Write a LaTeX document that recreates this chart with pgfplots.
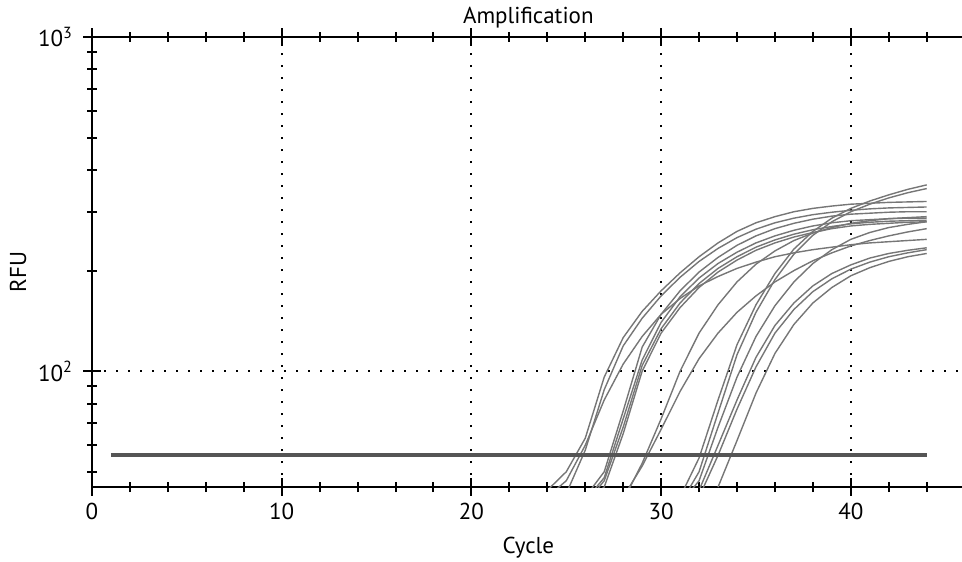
\documentclass[border=0pt]{standalone}
\usepackage{fontspec}
\setmainfont{PT Sans}
\usepackage{pgfplots}
\pgfplotsset{compat=1.18}
\usetikzlibrary{calc}

\definecolor{curve}{HTML}{767676}
\definecolor{thresh}{HTML}{555555}
\pgfplotsset{qpcr/.style={curve, line width=0.7pt, no markers}}

\begin{document}
\fontsize{11.5}{13}\selectfont
\begin{tikzpicture}
\begin{axis}[
    scale only axis,
    width=436.3pt, height=225pt,
    ymode=log,
    xmin=0, xmax=46,
    ymin=45, ymax=1000,
    xtick={0,10,20,30,40},
    minor xtick={2,4,6,8,12,14,16,18,22,24,26,28,32,34,36,38,42,44},
    ytick={100,1000},
    yticklabels={10\textsuperscript{2},10\textsuperscript{3}},
    minor ytick={50,60,70,80,90,200,300,400,500,600,700,800,900},
    ytick pos=left,
    tick align=center,
    major tick length=9pt,
    minor tick length=5pt,
    every tick/.style={black, line width=1pt},
    axis line style={black, line width=1pt},
    grid=major,
    major grid style={black, line width=1pt, dash pattern=on 0.9pt off 5.1pt},
    /pgf/number format/assume math mode=true,
    xticklabel style={anchor=center, yshift=-7.5pt},
    yticklabel style={anchor=east, xshift=-1pt},
    title={Amplification},
    title style={at={(axis description cs:0.5,1.0422)}, anchor=center, yshift=-6pt},
    xlabel={Cycle},
    x label style={at={(axis description cs:0.5,-0.1356)}, anchor=center},
    ylabel={RFU},
    y label style={at={(axis description cs:-0.0848,0.478)}, anchor=center},
]
\coordinate (BL) at (rel axis cs:0,0);
\coordinate (TR) at (axis cs:45.86,1000);

% early group
\addplot[qpcr] coordinates {(24,44) (25,50) (26,63) (27,96) (28,126) (29,151) (30,174) (31,197) (32,220) (33,242) (34,262) (35,278) (36,290) (37,300) (38,307) (39,312) (40,316) (41,318) (42,320) (43,321) (44,322)};
\addplot[qpcr] coordinates {(25,43) (26,58) (27,88) (28,119) (29,144) (30,168) (31,191) (32,213) (33,233) (34,251) (35,266) (36,278) (37,287) (38,294) (39,299) (40,303) (41,306) (42,308) (43,309) (44,310)};
\addplot[qpcr] coordinates {(24,42) (25,47) (26,60) (27,82) (28,105) (29,127) (30,148) (31,165) (32,180) (33,192) (34,203) (35,212) (36,220) (37,226) (38,231) (39,235) (40,239) (41,242) (42,244) (43,246) (44,248)};
\addplot[qpcr] coordinates {(26,42) (27,50) (28,76) (29,118) (30,148) (31,174) (32,198) (33,219) (34,238) (35,254) (36,267) (37,277) (38,285) (39,291) (40,295) (41,297) (42,299) (43,300) (44,300)};
\addplot[qpcr] coordinates {(26,41) (27,48) (28,72) (29,108) (30,140) (31,167) (32,190) (33,210) (34,227) (35,242) (36,254) (37,264) (38,272) (39,278) (40,282) (41,284) (42,286) (43,287) (44,287)};
\addplot[qpcr] coordinates {(26,40) (27,47) (28,68) (29,104) (30,134) (31,160) (32,183) (33,203) (34,220) (35,235) (36,247) (37,257) (38,265) (39,271) (40,276) (41,279) (42,281) (43,282) (44,283)};
\addplot[qpcr] coordinates {(26,40) (27,45) (28,65) (29,100) (30,130) (31,155) (32,178) (33,198) (34,215) (35,230) (36,242) (37,252) (38,260) (39,267) (40,272) (41,275) (42,277) (43,279) (44,280)};
% middle group
\addplot[qpcr] coordinates {(28,41) (29,53) (30,72) (31,100) (32,130) (33,158) (34,185) (35,209) (36,229) (37,246) (38,259) (39,269) (40,277) (41,282) (42,286) (43,288) (44,290)};
\addplot[qpcr] coordinates {(28,42) (29,52) (30,67) (31,87) (32,109) (33,130) (34,150) (35,168) (36,185) (37,200) (38,214) (39,226) (40,237) (41,246) (42,254) (43,261) (44,267)};
% late group
\addplot[qpcr] coordinates {(31,42) (32,55) (33,82) (34,120) (35,158) (36,196) (37,232) (38,262) (39,287) (40,307) (41,323) (42,337) (43,350) (44,361)};
\addplot[qpcr] coordinates {(31,40) (32,50) (33,75) (34,112) (35,150) (36,188) (37,224) (38,255) (39,280) (40,300) (41,316) (42,330) (43,342) (44,352)};
\addplot[qpcr] coordinates {(31,40) (32,47) (33,68) (34,96) (35,127) (36,157) (37,185) (38,210) (39,231) (40,248) (41,260) (42,269) (43,275) (44,280)};
\addplot[qpcr] coordinates {(32,44) (33,60) (34,82) (35,110) (36,137) (37,160) (38,180) (39,196) (40,208) (41,218) (42,225) (43,230) (44,234)};
\addplot[qpcr] coordinates {(32,42) (33,56) (34,77) (35,103) (36,130) (37,153) (38,173) (39,189) (40,202) (41,212) (42,220) (43,226) (44,231)};
\addplot[qpcr] coordinates {(33,45) (34,62) (35,86) (36,113) (37,138) (38,160) (39,178) (40,193) (41,204) (42,213) (43,220) (44,225)};

% threshold
\addplot[thresh, line width=2pt] coordinates {(1,56) (44,56)};
\end{axis}
\pgfresetboundingbox
\path ($(BL)+(-46pt,-37pt)$) rectangle ($(TR)+(0pt,18.5pt)$);
\end{tikzpicture}
\end{document}
